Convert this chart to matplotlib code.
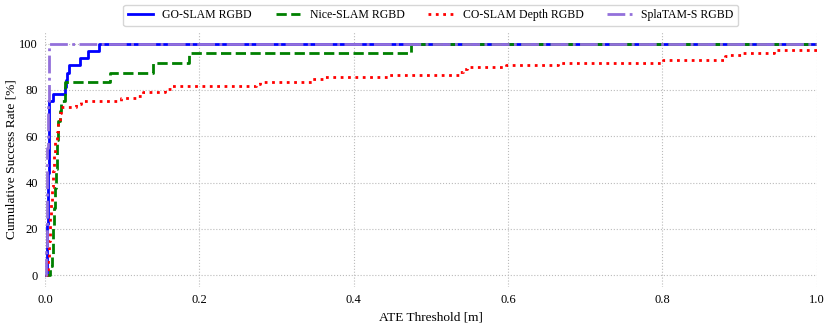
import matplotlib
matplotlib.use("Agg")
import matplotlib.pyplot as plt

plt.rcParams['font.family'] = ['Liberation Serif', 'DejaVu Serif']

# Step-curve breakpoints (ATE threshold [m], cumulative success rate [%])
go_x = [0.0, 0.001, 0.002, 0.003, 0.004, 0.005, 0.0055, 0.011, 0.026, 0.027, 0.028, 0.031, 0.046, 0.056, 0.070, 1.0]
go_y = [0.0, 0.0, 6.0, 22.0, 44.0, 62.0, 75.0, 78.1, 81.25, 84.4, 87.5, 90.6, 93.75, 96.9, 100.0, 100.0]

nice_x = [0.0, 0.004, 0.006, 0.009, 0.010, 0.011, 0.012, 0.013, 0.014, 0.015, 0.017, 0.019, 0.021, 0.026, 0.084, 0.140, 0.186, 0.474, 1.0]
nice_y = [0.0, 0.0, 4.2, 8.3, 16.7, 20.8, 29.2, 37.5, 45.8, 58.3, 66.7, 70.8, 75.0, 83.3, 87.5, 91.7, 95.8, 100.0, 100.0]

co_x = [0.0, 0.002, 0.004, 0.005, 0.007, 0.008, 0.009, 0.010, 0.012, 0.013, 0.015, 0.017, 0.019, 0.021,
        0.040, 0.047, 0.099, 0.118, 0.127, 0.156, 0.163, 0.273, 0.279, 0.346, 0.361, 0.445, 0.536,
        0.542, 0.547, 0.597, 0.665, 0.801, 0.881, 0.886, 0.903, 0.945, 1.0]
co_y = [0.0, 0.0, 8.0, 15.0, 25.0, 31.0, 38.0, 45.0, 52.0, 58.0, 62.0, 66.0, 70.0, 72.7,
        73.9, 75.3, 76.4, 77.3, 79.0, 80.5, 81.5, 82.6, 83.6, 84.5, 85.5, 86.6, 87.8,
        89.2, 89.7, 90.9, 91.7, 92.8, 94.5, 95.1, 96.0, 97.0, 97.0]

spla_x = [0.0, 0.0005, 0.001, 0.002, 0.003, 0.004, 0.005, 1.0]
spla_y = [0.0, 0.0, 10.0, 30.0, 55.0, 75.0, 100.0, 100.0]

labels = ["GO-SLAM RGBD", "Nice-SLAM RGBD", "CO-SLAM Depth RGBD", "SplaTAM-S RGBD"]

fig = plt.figure(figsize=(8.3, 3.26), dpi=100)
ax = fig.add_axes([0.0542, 0.12, 0.9298, 0.782])

ax.step(go_x, go_y, where='post', color='blue', lw=2.0, ls='-', label=labels[0])
ax.step(nice_x, nice_y, where='post', color='green', lw=2.0, ls='--', label=labels[1])
ax.step(co_x, co_y, where='post', color='red', lw=2.0, ls=':', label=labels[2])
ax.step(spla_x, spla_y, where='post', color='mediumpurple', lw=2.0, ls='-.', label=labels[3])

ax.set_xlim(0, 1.0)
ax.set_ylim(-5, 105)
ax.set_xticks([0.0, 0.2, 0.4, 0.6, 0.8, 1.0])
ax.set_yticks([0, 20, 40, 60, 80, 100])
ax.grid(True, ls=':', color='#bbbbbb', lw=0.8)
ax.set_axisbelow(True)
for s in ax.spines.values():
    s.set_visible(False)
ax.tick_params(length=0, labelsize=9, pad=5)
ax.set_xlabel("ATE Threshold [m]", fontsize=9.6, labelpad=4)
ax.set_ylabel("Cumulative Success Rate [%]", fontsize=9.6, labelpad=1)

leg = ax.legend(loc='lower center', bbox_to_anchor=(0.5, 1.023), ncol=4, fontsize=8.5,
                frameon=True, fancybox=True, edgecolor='#cccccc', handlelength=2.1,
                columnspacing=2.0, borderaxespad=0.0)

fig.savefig("out.png", dpi=100)
